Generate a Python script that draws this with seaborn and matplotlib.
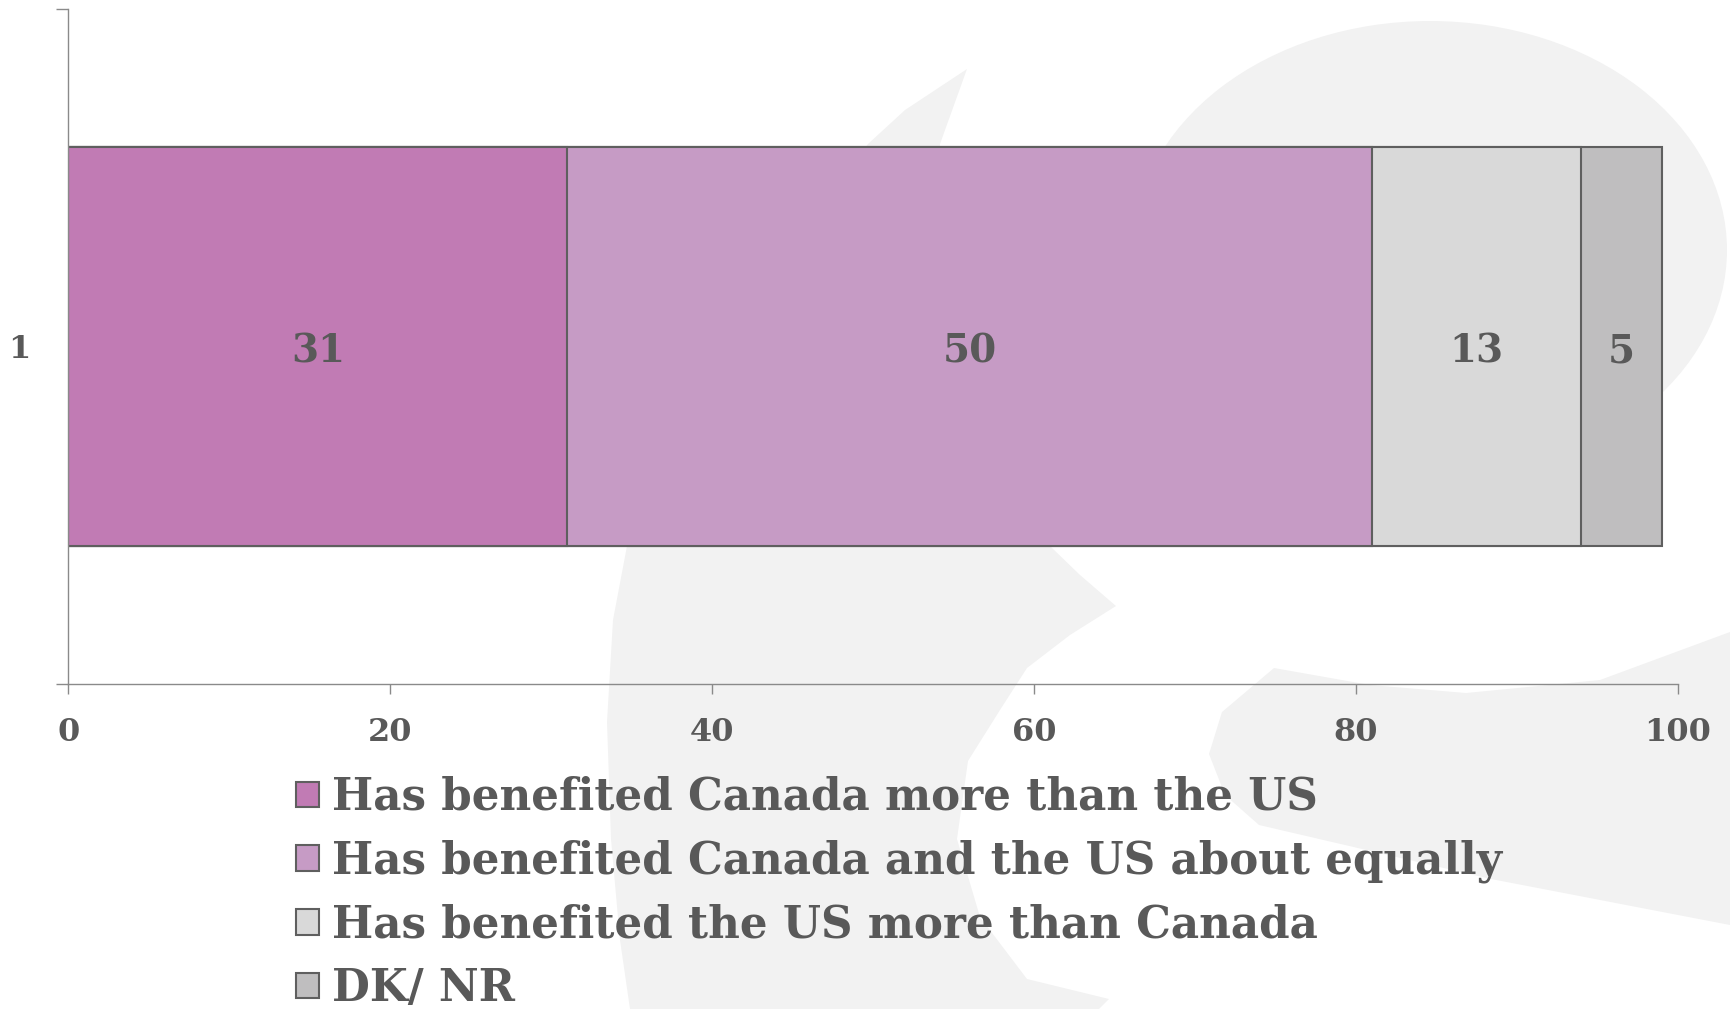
import numpy as np
import pandas as pd
import matplotlib
matplotlib.use('Agg')
import matplotlib.pyplot as plt
import seaborn as sns
from matplotlib.patches import Patch, Polygon, Ellipse

# data
categories = ['1']
series_names = [
    'Has benefited Canada more than the US',
    'Has benefited Canada and the US about equally',
    'Has benefited the US more than Canada',
    'DK/ NR',
]
series_values = [31, 50, 13, 5]
series_colors = ['#C17BB4', '#C69BC5', '#D9D9D9', '#BFBEBF']
x_ticks = [0, 20, 40, 60, 80, 100]

TEXT = '#595959'
EDGE = '#5f5f5f'
AXIS = '#8a8a8a'
WM = '#F2F2F2'

sns.set_theme(style='white')
plt.rcParams['font.family'] = ['DejaVu Serif']
plt.rcParams['font.weight'] = 'bold'

W, H = 1730, 1009
fig = plt.figure(figsize=(W / 100, H / 100), dpi=100)

# background watermark (pixel coords, y down)
bg = fig.add_axes([0, 0, 1, 1], zorder=0)
bg.set_xlim(0, W)
bg.set_ylim(H, 0)
bg.axis('off')
bg.add_patch(Ellipse((1430, 250), 594, 458, color=WM, lw=0))
crescent = [(967, 69), (905, 110), (868, 144), (800, 230), (740, 320), (690, 420),
            (650, 500), (627, 546), (613, 620), (607, 722), (611, 839), (620, 940),
            (630, 1009), (1099, 1009), (1109, 999), (1027, 979), (980, 917),
            (957, 839), (968, 761), (1000, 710), (1027, 668), (1070, 635),
            (1116, 606), (1080, 575), (1050, 546), (985, 450), (950, 350),
            (935, 250), (940, 144)]
bg.add_patch(Polygon(crescent, closed=True, color=WM, lw=0))
tail = [(1209, 754), (1222, 712), (1274, 668), (1370, 685), (1466, 693),
        (1600, 680), (1730, 632), (1730, 925), (1491, 879), (1259, 825),
        (1225, 795)]
bg.add_patch(Polygon(tail, closed=True, color=WM, lw=0))

ax = fig.add_axes([68.4 / W, 1 - 684 / H, (1678 - 68.4) / W, (684 - 8.8) / H], zorder=1)
ax.patch.set_alpha(0)

cum = np.cumsum(series_values)
# stacked: draw cumulative totals from the largest down
for i in range(len(series_values) - 1, -1, -1):
    df = pd.DataFrame({'cat': categories, 'val': [cum[i]]})
    sns.barplot(data=df, x='val', y='cat', orient='h', color=series_colors[i],
                saturation=1, width=0.59, edgecolor=EDGE, linewidth=1.5, ax=ax)

starts = cum - np.array(series_values)
for s, v in zip(starts, series_values):
    ax.annotate(str(v), (s + v / 2, 0), xytext=(0, -4), textcoords='offset points',
                ha='center', va='center', fontsize=28, fontweight='bold', color=TEXT)

ax.set_xlim(0, 100)
ax.set_ylim(0.5, -0.5)
ax.set_xticks(x_ticks)
ax.set_xticklabels([str(t) for t in x_ticks])
ax.set_yticks([0])
ax.set_yticklabels(categories)
ax.set_yticks([-0.5, 0.5], minor=True)
ax.set_xlabel('')
ax.set_ylabel('')

for side in ['top', 'right']:
    ax.spines[side].set_visible(False)
for side in ['left', 'bottom']:
    ax.spines[side].set_color(AXIS)
    ax.spines[side].set_linewidth(1.0)

ax.tick_params(axis='x', which='major', direction='out', length=7, width=1,
               color=AXIS, labelsize=23, labelcolor=TEXT, pad=17, bottom=True)
ax.tick_params(axis='y', which='major', length=0, labelsize=23, labelcolor=TEXT, pad=27)
ax.tick_params(axis='y', which='minor', direction='out', length=9, width=1,
               color=AXIS, left=True)
for lab in ax.get_xticklabels() + ax.get_yticklabels():
    lab.set_fontweight('bold')

handles = [Patch(facecolor=c, edgecolor=EDGE, linewidth=1.5) for c in series_colors]
leg = fig.legend(handles, series_names, loc='upper left',
                 bbox_to_anchor=(296 / W, 1 - 776 / H), frameon=False,
                 prop={'size': 31.4, 'weight': 'bold'}, labelcolor=TEXT,
                 handlelength=0.53, handleheight=0.53, handletextpad=0.3,
                 labelspacing=0.47, borderpad=0, borderaxespad=0)

fig.savefig('out.png', dpi=100)
